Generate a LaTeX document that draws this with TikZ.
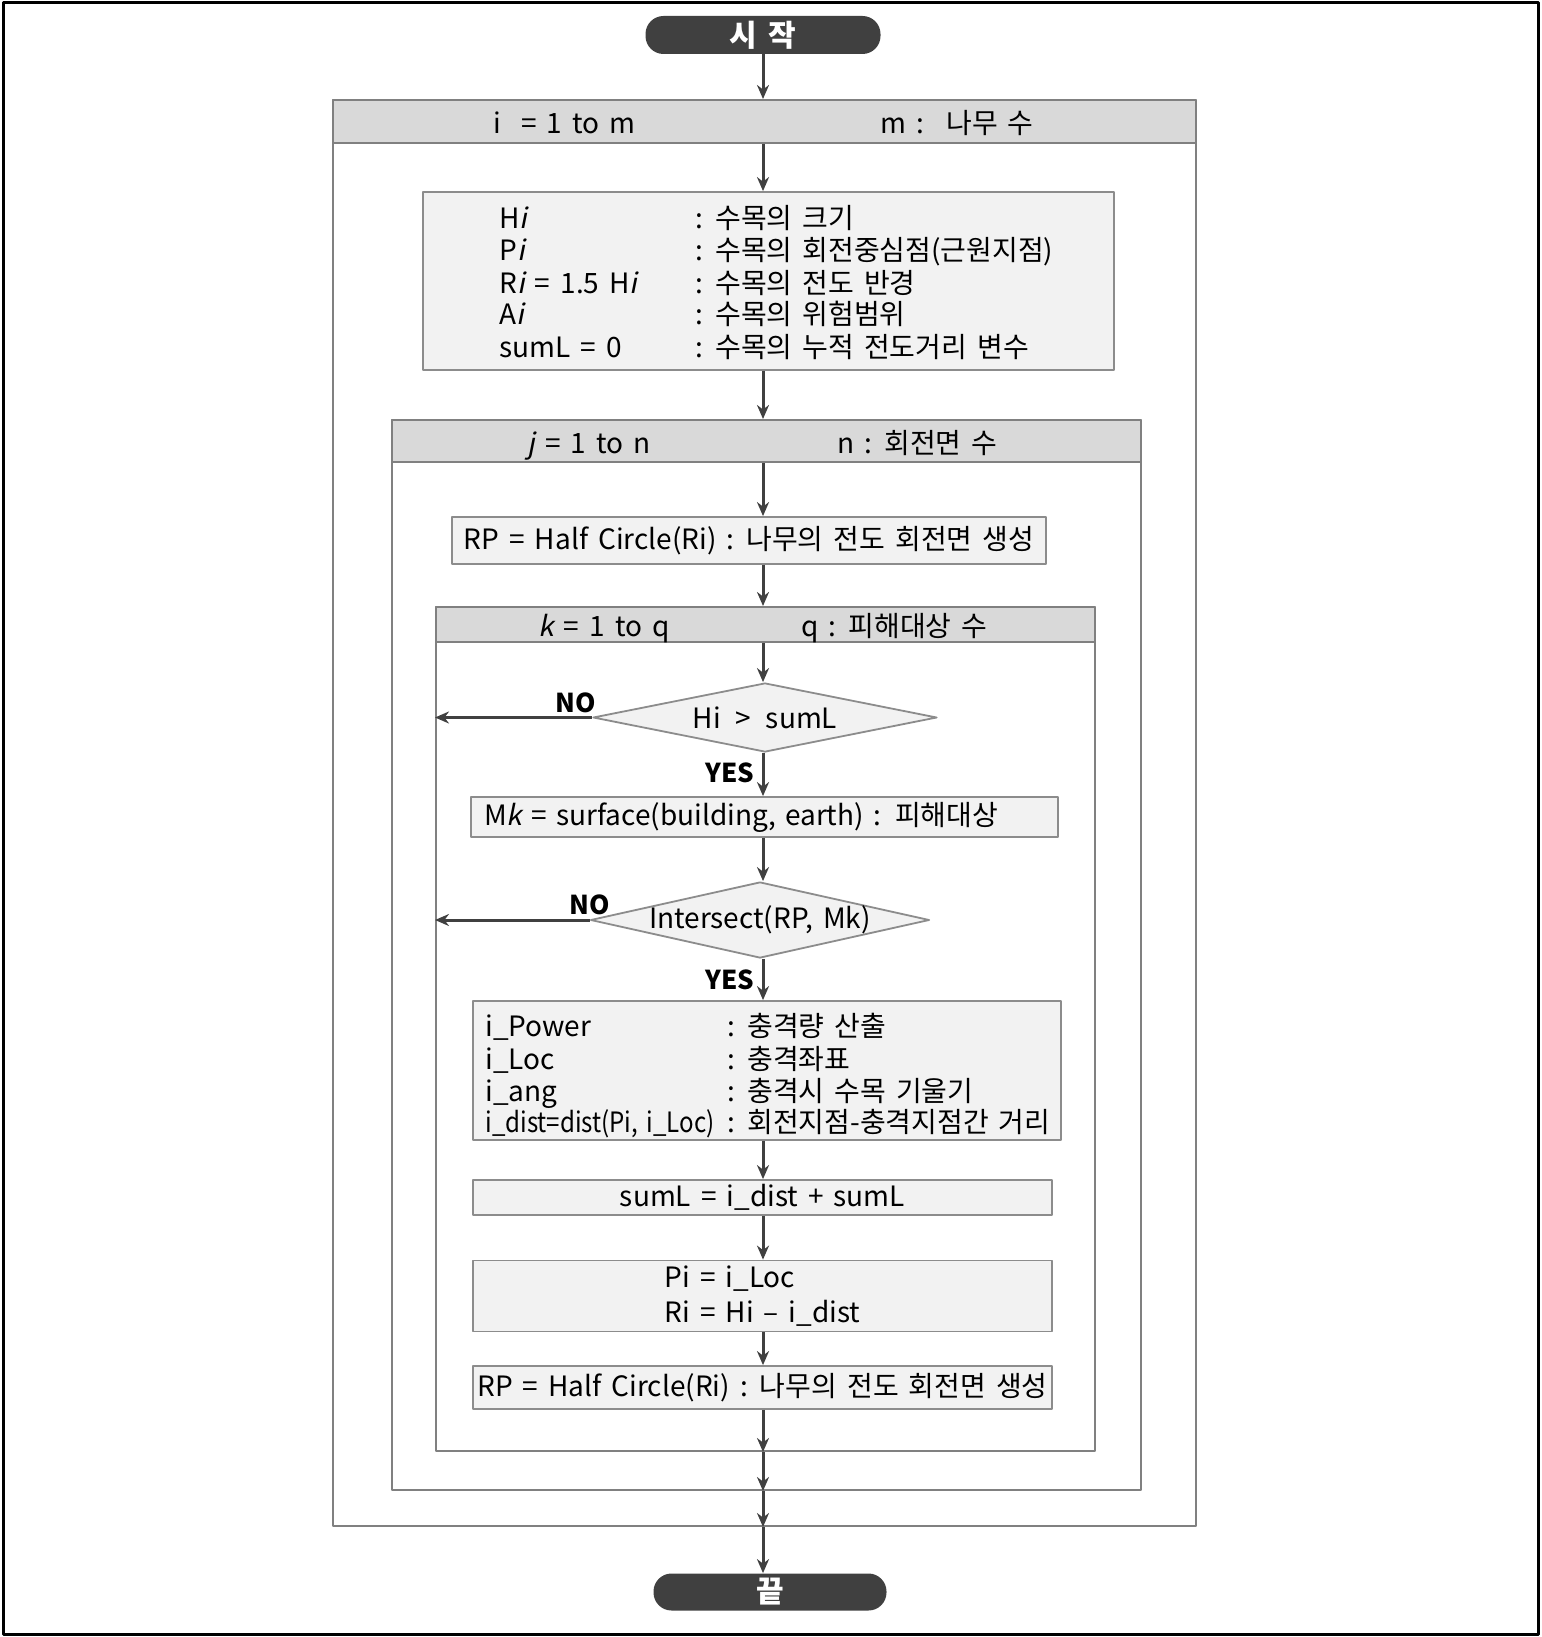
\documentclass[tikz,border=0pt]{standalone}
\usepackage{fontspec}
\setmainfont{Noto Sans CJK KR}[WordSpace=1.6,ItalicFont={Noto Sans CJK KR},ItalicFeatures={FakeSlant=0.2}]
\usetikzlibrary{arrows.meta,shapes.geometric,fit}
\definecolor{ink}{RGB}{64,64,64}
\definecolor{frameline}{RGB}{128,128,128}
\definecolor{boxline}{RGB}{140,140,140}
\definecolor{boxfill}{RGB}{242,242,242}
\definecolor{headfill}{RGB}{217,217,217}

\begin{document}
\begin{tikzpicture}[
  x=0.5pt,
  y=-0.5pt,
  font=\fontsize{14pt}{17.5pt}\selectfont,
  line join=round,
  terminal/.style={
    rectangle,
    rounded corners=9pt,
    fill=ink,
    text=white,
    font=\fontsize{15pt}{18pt}\selectfont\bfseries,
    inner sep=0pt
  },
  loopframe/.style={
    draw=frameline,
    line width=1pt,
    inner sep=0pt
  },
  loophead/.style={
    draw=frameline,
    fill=headfill,
    line width=1pt,
    inner sep=0pt
  },
  procbox/.style={
    draw=boxline,
    fill=boxfill,
    line width=0.9pt,
    inner sep=0pt
  },
  decision/.style={
    diamond,
    aspect=5,
    draw=boxline,
    fill=boxfill,
    line width=0.9pt,
    inner xsep=-10pt,
    inner ysep=0pt
  },
  txt/.style={
    text=black,
    text height=13pt,
    text depth=1pt,
    inner sep=0pt
  },
  answer/.style={
    font=\fontsize{13pt}{15pt}\selectfont\bfseries,
    inner sep=0pt
  },
  flow/.style={
    -{Stealth[length=7pt,width=6pt]},
    draw=ink,
    line width=1.5pt
  }
]
\useasboundingbox (0,0) rectangle (1541,1637);
\draw[line width=1.5pt] (3,3) rectangle (1538,1634);

% main spine of the flow chart
\coordinate (spine) at (763,0);

% ---------------------------------------------------------------------------
% Start and outer loop over trees.
% ---------------------------------------------------------------------------
\node[terminal, minimum width=117.5pt, minimum height=19pt] (start)
  at (763,35) {시 작};

\node[loopframe, fit={(333,100) (1196,1526)}] (iloop) {};
\node[loophead, fit={(333,100) (1196,143)}] (ihead) {};
\node[txt, anchor=west] (ihead-l) at (493,121.5) {i \ = 1 to m};
\node[txt, anchor=west] (ihead-r) at (880,121.5) {m : \ 나무 수};

% Tree parameters.
\node[procbox, fit={(423,192) (1114,370)}] (init) {};
\foreach \n/\y/\lft/\rgt in {
    1/216/{H\textit{i}}/{: 수목의 크기},
    2/248/{P\textit{i}}/{: 수목의 회전중심점(근원지점)},
    3/281/{R\textit{i} = 1.5 H\textit{i}}/{: 수목의 전도 반경},
    4/312/{A\textit{i}}/{: 수목의 위험범위},
    5/345/{sumL = 0}/{: 수목의 누적 전도거리 변수}} {
  \node[txt, anchor=west] (init-l\n) at (499,\y) {\lft};
  \node[txt, anchor=west] (init-r\n) at (695,\y) {\rgt};
}

% ---------------------------------------------------------------------------
% Loop over rotation planes.
% ---------------------------------------------------------------------------
\node[loopframe, fit={(392,420) (1141,1490)}] (jloop) {};
\node[loophead, fit={(392,420) (1141,462)}] (jhead) {};
\node[txt, anchor=west] (jhead-l) at (527,441) {\textit{j} = 1 to n};
\node[txt, anchor=west] (jhead-r) at (837,441) {n : 회전면 수};

\node[procbox, minimum width=297pt, minimum height=23.5pt] (rp)
  at (749,540.5) {RP = Half Circle(Ri) : 나무의 전도 회전면 생성};

% ---------------------------------------------------------------------------
% Loop over damage targets.
% ---------------------------------------------------------------------------
\node[loopframe, fit={(436,607) (1095,1451)}] (kloop) {};
\node[loophead, fit={(436,607) (1095,642)}] (khead) {};
\node[txt, anchor=west] (khead-l) at (538,624.5) {\textit{k} = 1 to q};
\node[txt, anchor=west] (khead-r) at (801,624.5) {q : 피해대상 수};

\node[decision, minimum width=172pt, minimum height=34.5pt] (dec1)
  at (765,717.5) {Hi \,>\, sumL};

\node[procbox, minimum width=293.5pt, minimum height=20pt,
      inner xsep=6.5pt, text width=280.5pt, align=left] (mk)
  at (764.5,817) {M\textit{k} = surface(building, earth) : 피해대상};

\node[decision, minimum width=169.5pt, minimum height=38pt] (dec2)
  at (760,920) {Intersect(RP, Mk)};

% Impact values.
\node[procbox, fit={(473,1001) (1061,1140)}] (impact) {};
\foreach \n/\y/\lft/\rgt in {
    1/1024/{i\_Power}/{: 충격량 산출},
    2/1057/{i\_Loc}/{: 충격좌표},
    3/1089/{i\_ang}/{: 충격시 수목 기울기}} {
  \node[txt, anchor=west] (impact-l\n) at (485,\y) {\lft};
  \node[txt, anchor=west] (impact-r\n) at (727,\y) {\rgt};
}
\node[txt, anchor=west] (impact-l4) at (485,1120)
  {\scalebox{0.86}[1]{i\_dist=dist(Pi, i\_Loc)}};
\node[txt, anchor=west] (impact-r4) at (727,1120) {: 회전지점-충격지점간 거리};

\node[procbox, minimum width=289.5pt, minimum height=17.5pt] (suml)
  at (762.5,1197.5) {sumL = i\_dist + sumL};
\node[procbox, minimum width=289.5pt, minimum height=35.5pt, align=left] (pibox)
  at (762.5,1296) {Pi = i\_Loc\\Ri = Hi – i\_dist};
\node[procbox, minimum width=289.5pt, minimum height=21.5pt] (rp2)
  at (762.5,1387.5) {RP = Half Circle(Ri) : 나무의 전도 회전면 생성};

\node[terminal, minimum width=116.5pt, minimum height=18.5pt] (stop)
  at (770,1592) {끝};

% YES / NO branch labels.
\node[answer] (no1) at (576,703) {NO};
\node[answer] (yes1) at (730,773) {YES};
\node[answer] (no2) at (590,905) {NO};
\node[answer] (yes2) at (730,980) {YES};

% ---------------------------------------------------------------------------
% Connectors.
% ---------------------------------------------------------------------------
\draw[flow] (start.south -| spine) -- (ihead.north -| spine);
\draw[flow] (ihead.south -| spine) -- (init.north -| spine);
\draw[flow] (init.south -| spine) -- (jhead.north -| spine);
\draw[flow] (jhead.south -| spine) -- (rp.north -| spine);
\draw[flow] (rp.south -| spine) -- (khead.north -| spine);
\draw[flow] (khead.south -| spine) -- (dec1.north -| spine);
\draw[flow] (dec1.south -| spine) -- (mk.north -| spine);
\draw[flow] (dec1.west) -- (dec1.west -| kloop.west);
\draw[flow] (mk.south -| spine) -- (dec2.north -| spine);
\draw[flow] (dec2.south -| spine) -- (impact.north -| spine);
\draw[flow] (dec2.west) -- (dec2.west -| kloop.west);
\draw[flow] (impact.south -| spine) -- (suml.north -| spine);
\draw[flow] (suml.south -| spine) -- (pibox.north -| spine);
\draw[flow] (pibox.south -| spine) -- (rp2.north -| spine);
\draw[flow] (rp2.south -| spine) -- (kloop.south -| spine);
\draw[flow] (kloop.south -| spine) -- (jloop.south -| spine);
\draw[flow] (jloop.south -| spine) -- (iloop.south -| spine);
\draw[flow] (iloop.south -| spine) -- (stop.north -| spine);

\end{tikzpicture}
\end{document}
